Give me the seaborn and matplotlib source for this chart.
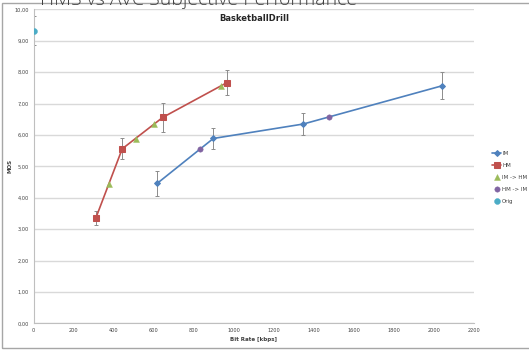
import numpy as np
import pandas as pd
import seaborn as sns
import matplotlib.pyplot as plt
from matplotlib.patches import Rectangle
from matplotlib.ticker import MultipleLocator, FuncFormatter

# values
im_rate = [617, 897, 1346, 2040]
im_mos = [4.46, 5.89, 6.35, 7.57]
im_err = [0.40, 0.32, 0.36, 0.43]

hm_rate = [310, 442, 644, 965]
hm_mos = [3.35, 5.56, 6.56, 7.67]
hm_err = [0.23, 0.33, 0.47, 0.41]

im_hm_rate = [376, 511, 599, 935]
im_hm_mos = [4.44, 5.88, 6.35, 7.56]

hm_im_rate = [832, 1473]
hm_im_mos = [5.55, 6.56]

orig_rate = [0]
orig_mos = [9.33]
orig_err = [0.47]

blue = "#4f81bd"
red = "#c0504d"
green = "#9bbb59"
purple = "#8064a2"
cyan = "#4bacc6"
grey = "#8c8c8c"

sns.set_style("white")
plt.rcParams['font.family'] = ['DejaVu Sans']

fig = plt.figure(figsize=(5.29, 3.5), dpi=100)
ax = fig.add_axes([0.0637, 0.0763, 0.8329, 0.8966])

# error bars first so markers sit on top
for r, m, e in [(im_rate, im_mos, im_err), (hm_rate, hm_mos, hm_err), (orig_rate, orig_mos, orig_err)]:
    ax.errorbar(r, m, yerr=e, fmt="none", ecolor=grey, elinewidth=0.7, capsize=1.5, capthick=0.7, zorder=2)

sns.lineplot(x=im_rate, y=im_mos, color=blue, marker="D", markersize=3, markeredgecolor=blue,
             linewidth=1.2, label="IM", ax=ax, zorder=3)
sns.lineplot(x=hm_rate, y=hm_mos, color=red, marker="s", markersize=4.5, markeredgecolor=red,
             linewidth=1.2, label="HM", ax=ax, zorder=3)
sns.scatterplot(x=im_hm_rate, y=im_hm_mos, color=green, marker="^", s=18, edgecolor=green,
                label="IM -> HM", ax=ax, zorder=4)
sns.scatterplot(x=hm_im_rate, y=hm_im_mos, color=purple, marker="o", s=15, edgecolor=purple,
                label="HM -> IM", ax=ax, zorder=4)
sns.scatterplot(x=orig_rate, y=orig_mos, color=cyan, marker="o", s=18, edgecolor=cyan,
                label="Orig", ax=ax, zorder=4)

ax.set_xlim(0, 2200)
ax.set_ylim(0, 10)
ax.xaxis.set_major_locator(MultipleLocator(200))
ax.xaxis.set_minor_locator(MultipleLocator(100))
ax.yaxis.set_major_locator(MultipleLocator(1))
ax.yaxis.set_minor_locator(MultipleLocator(0.2))
ax.yaxis.set_major_formatter(FuncFormatter(lambda v, p: f"{v:.2f}".replace(".", ",")))
ax.yaxis.grid(True, color="#d9d9d9", linewidth=1)
ax.xaxis.grid(False)
for s in ["top", "right"]:
    ax.spines[s].set_visible(False)
for s in ["left", "bottom"]:
    ax.spines[s].set_color("#bfbfbf")
    ax.spines[s].set_linewidth(0.8)
ax.tick_params(which="major", length=3, width=0.6, color="#bfbfbf", labelsize=3.6,
               labelcolor="#404040", pad=2)
ax.tick_params(which="minor", length=1.5, width=0.5, color="#bfbfbf")
ax.tick_params(axis="both", which="both", direction="inout")

ax.set_xlabel("Bit Rate [kbps]", fontsize=4, fontweight="bold", color="#404040", labelpad=3)
ax.set_ylabel("MOS", fontsize=4, fontweight="bold", color="#404040")
ax.yaxis.set_label_coords(-0.047, 0.5)
ax.set_title("BasketballDrill", fontsize=6, fontweight="bold", color="#262626", pad=-8)

leg = ax.legend(loc="upper left", bbox_to_anchor=(0.926, 0.575), bbox_transform=fig.transFigure,
                frameon=False, fontsize=4, handlelength=1.6, labelspacing=1.25, borderaxespad=0,
                handletextpad=0.2)
for t in leg.get_texts():
    t.set_color("#404040")

# slide frame and clipped heading
fig.patches.append(Rectangle((2 / 529, 2 / 350), 1.2, 345 / 350, transform=fig.transFigure,
                             fill=False, edgecolor="#a6a6a6", linewidth=1, zorder=0))
fig.text(0.075, 1.0, "HMS vs AVC Subjective Performance", fontsize=14, color="#3f3f3f",
         ha="left", va="center", family=["Open Sans", "DejaVu Sans"], fontweight="light")

fig.savefig("out.png", dpi=100)
